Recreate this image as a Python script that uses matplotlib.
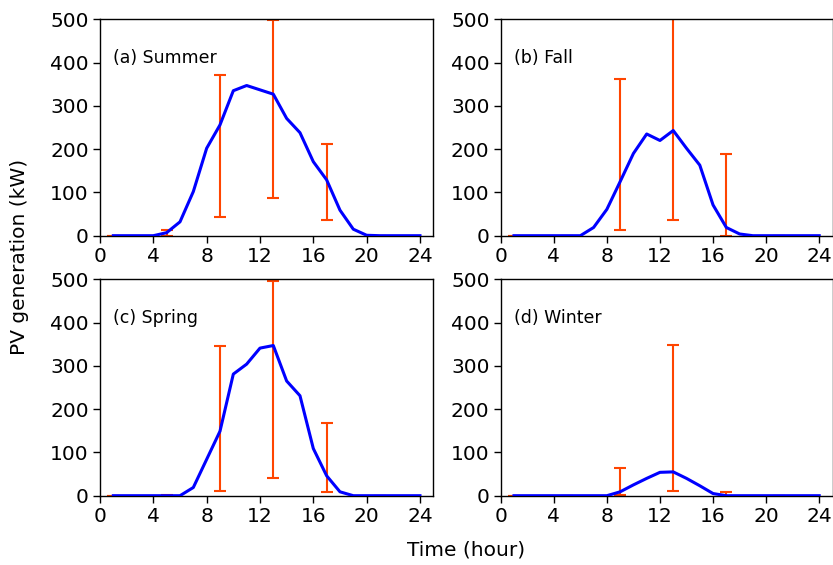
import numpy as np
import matplotlib
matplotlib.use("Agg")
import matplotlib.pyplot as plt

hours = np.arange(1, 25)

# Mean hourly PV output (kW) for each season
summer = [0, 0, 0, 0, 7, 32, 102, 202, 256, 335, 347, 337, 327, 271, 238, 171,
          129, 59, 15, 1, 0, 0, 0, 0]
fall = [0, 0, 0, 0, 0, 0, 19, 61, 125, 190, 235, 220, 243, 202, 163, 71,
        19, 4, 0, 0, 0, 0, 0, 0]
spring = [0, 0, 0, 0, 0, 0, 19, 84, 149, 281, 304, 341, 347, 265, 231, 109,
          46, 9, 0, 0, 0, 0, 0, 0]
winter = [0, 0, 0, 0, 0, 0, 0, 0, 9, 25, 40, 54, 55, 40, 23, 5,
          0, 0, 0, 0, 0, 0, 0, 0]

# Range (min / max) of output at selected hours
err_hours = [1, 5, 9, 13, 17, 21]
summer_lo = [0, 0, 44, 86, 36, 0]
summer_hi = [0, 13, 371, 498, 213, 0]
fall_lo = [0, 0, 13, 36, 0, 0]
fall_hi = [0, 0, 362, 520, 189, 0]
spring_lo = [0, 0, 12, 42, 8, 0]
spring_hi = [0, 2, 347, 495, 168, 0]
winter_lo = [0, 0, 1, 10, 0, 0]
winter_hi = [0, 0, 65, 349, 8, 0]

labels = ["(a) Summer", "(b) Fall", "(c) Spring", "(d) Winter"]
series = [summer, fall, spring, winter]
lows = [summer_lo, fall_lo, spring_lo, winter_lo]
highs = [summer_hi, fall_hi, spring_hi, winter_hi]

x_ticks = [0, 4, 8, 12, 16, 20, 24]
y_ticks = [0, 100, 200, 300, 400, 500]

W, H = 833, 565
fig = plt.figure(figsize=(W / 100, H / 100), dpi=100)

# axes boxes in pixels: (left, right, top, bottom)
boxes = [(100, 433.3, 19.3, 235.7), (500.7, 832.5, 19.3, 235.7),
         (100, 433.3, 279.3, 495.7), (500.7, 832.5, 279.3, 495.7)]

for box, lab, vals, lo, hi in zip(boxes, labels, series, lows, highs):
    l, r, t, b = box
    ax = fig.add_axes([l / W, 1 - b / H, (r - l) / W, (b - t) / H])
    idx = [h - 1 for h in err_hours]
    mean_at = np.array([vals[i] for i in idx])
    yerr = [mean_at - np.array(lo), np.array(hi) - mean_at]
    ax.errorbar(err_hours, mean_at, yerr=yerr, fmt="none", ecolor="#FF4500",
                elinewidth=1.5, capsize=4, capthick=1.5, zorder=2)
    ax.plot(hours, vals, color="#0000FF", linewidth=2.2, zorder=3)
    ax.set_xlim(0, 25)
    ax.set_ylim(0, 500)
    ax.set_xticks(x_ticks)
    ax.set_yticks(y_ticks)
    ax.tick_params(labelsize=14.5, direction="out", length=5, width=1,
                   pad=3)
    for s in ax.spines.values():
        s.set_linewidth(1.0)
    ax.text(1, 400, lab, fontsize=12.5)

fig.text(20 / W, 1 - 257 / H, "PV generation (kW)", rotation=90,
         fontsize=14.5, ha="center", va="center")
fig.text(466.5 / W, 1 - 550 / H, "Time (hour)", fontsize=14.5,
         ha="center", va="center")

fig.savefig("out.png", dpi=100)
